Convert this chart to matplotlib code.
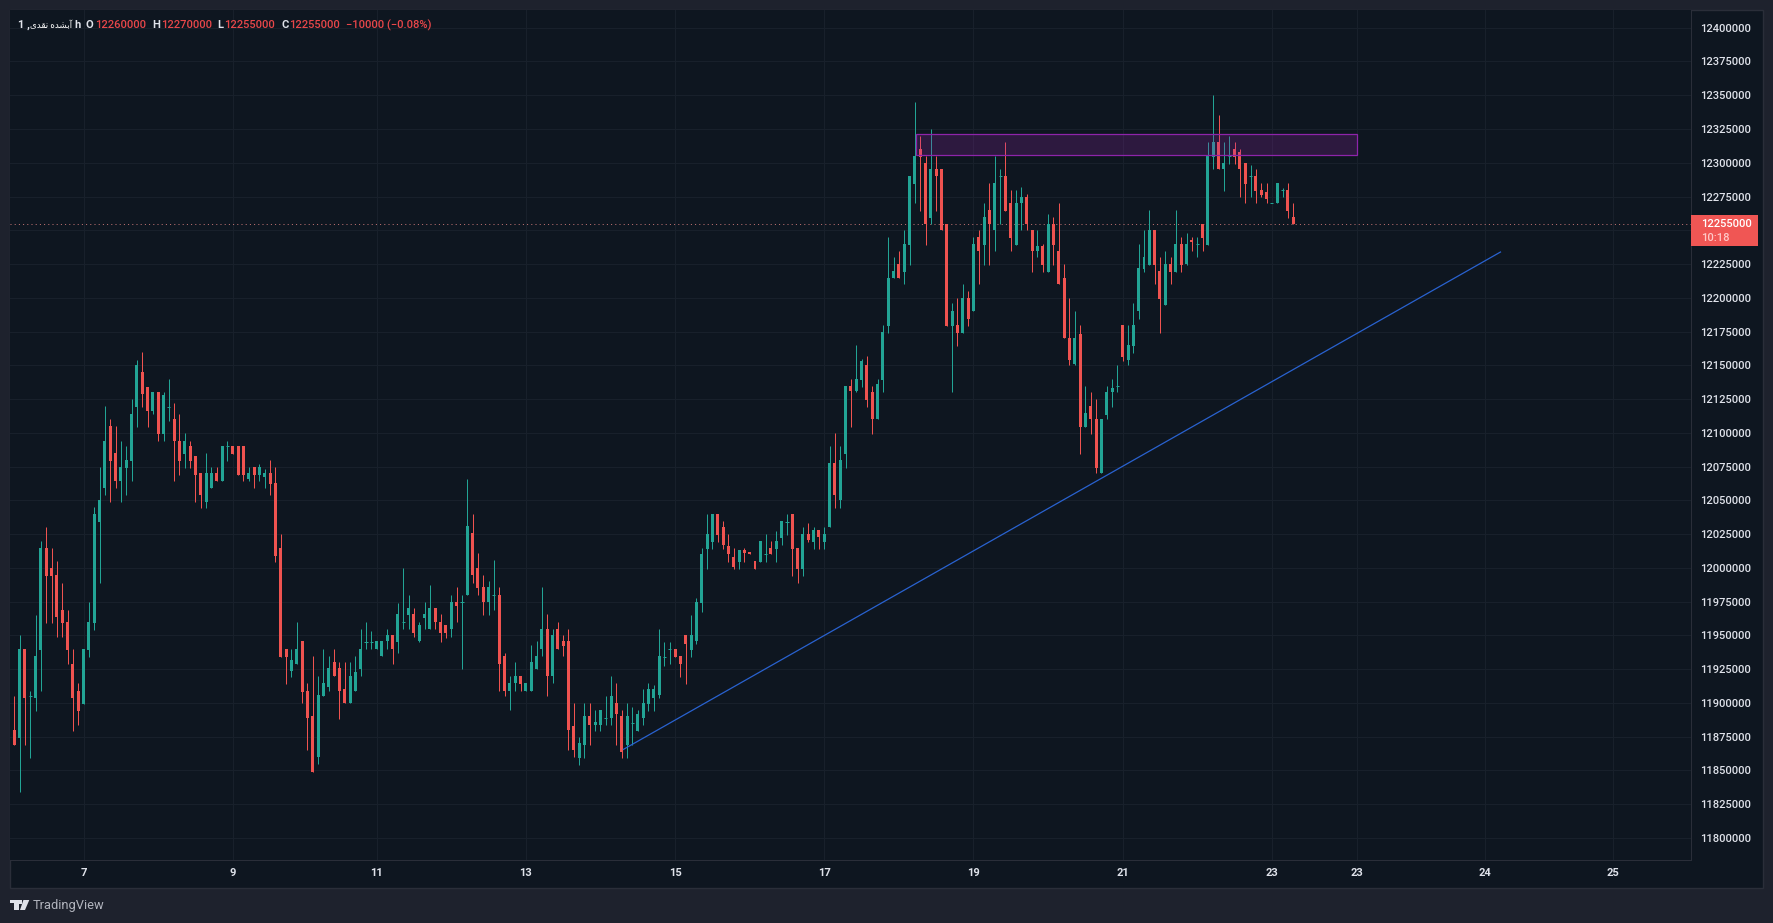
import numpy as np
import matplotlib
matplotlib.use('Agg')
import matplotlib.pyplot as pyplot
from matplotlib.patches import Rectangle, Polygon

## Constants ##
W, H = 1773, 923
BG = '#1e222d'
PANEL = '#0e1620'
FRAME = '#2a2e39'
GRID = '#18202b'
UP = '#22a495'
DOWN = '#ef5350'
TEXT = '#dfe2ea'

# hourly candles, prices in thousands, first one is cut by the left edge
opens = [
    11934,11880,11874,11940,11905,11904,11939,12015,12000,11995,
    11969,11960,11929,11909,11899,11939,11959,12034,12059,12105,
    12085,12064,12074,12079,12119,12145,12134,12116,12130,12099,
    12119,12110,12094,12084,12090,12083,12070,12049,12059,12070,
    12064,12090,12090,12090,12090,12066,12075,12069,12067,12070,
    12063,12015,11940,11924,11929,11946,11909,11890,11860,11905,
    11912,11930,11926,11910,11900,11909,11925,11945,11945,11940,
    11935,11946,11950,11945,11960,11965,11966,11946,11963,11955,
    11970,11960,11958,11955,11975,11975,11980,12026,12000,11986,
    11975,11980,11980,11935,11909,11915,11920,11909,11909,11925,
    11940,11955,11920,11955,11946,11946,11883,11859,11869,11890,
    11884,11884,11889,11889,11900,11890,11869,11885,11879,11889,
    11899,11904,11906,11934,11940,11940,11935,11950,11939,11946,
    11974,12014,12019,12040,12030,12016,12008,12004,12013,12012,
    12005,12004,12010,12015,12014,12022,12034,12040,12015,11999,
    12025,12019,12028,12019,12030,12078,12050,12084,12135,12131,
    12139,12150,12130,12110,12139,12179,12215,12225,12219,12239,
    12284,12310,12300,12259,12295,12295,12255,12179,12180,12174,
    12200,12190,12245,12239,12265,12250,12290,12290,12270,12239,
    12270,12275,12250,12235,12238,12219,12255,12235,12215,12170,
    12151,12173,12104,12120,12110,12070,12113,12130,12135,12180,
    12154,12164,12190,12221,12224,12250,12220,12195,12225,12219,
    12240,12225,12243,12240,12255,12239,12304,12315,12295,12305,
    12310,12308,12300,12290,12290,12280,12278,12270,12270,12280,
    12280,12260]
highs = [
    11950,11905,11950,11940,11909,11965,12020,12030,12015,12005,
    11989,11969,11940,11915,11940,11975,12045,12075,12120,12110,
    12105,12094,12090,12125,12154,12160,12134,12130,12130,12130,
    12140,12122,12114,12100,12094,12083,12070,12085,12075,12075,
    12090,12094,12090,12090,12090,12075,12075,12077,12073,12080,
    12075,12025,11940,11940,11960,11946,11915,11935,11920,11940,
    11935,11940,11930,11930,11930,11935,11955,11960,11953,11946,
    11946,11955,11950,11974,12000,11980,11970,11960,11975,11987,
    11970,11966,11958,11980,11986,11980,12066,12040,12011,11995,
    11990,12006,11986,11937,11920,11930,11920,11915,11943,11946,
    11986,11966,11955,11960,11950,11955,11900,11875,11900,11900,
    11895,11895,11905,11920,11915,11895,11900,11897,11895,11910,
    11915,11913,11955,11945,11945,11940,11935,11950,11965,11978,
    12015,12040,12040,12040,12035,12025,12015,12013,12015,12012,
    12005,12020,12025,12020,12027,12035,12040,12040,12015,12030,
    12033,12030,12028,12030,12090,12100,12090,12135,12140,12165,
    12155,12157,12135,12140,12180,12245,12230,12235,12250,12290,
    12345,12320,12305,12325,12305,12295,12255,12196,12200,12210,
    12205,12245,12250,12270,12285,12305,12295,12315,12280,12280,
    12282,12277,12250,12250,12240,12262,12260,12270,12225,12200,
    12190,12180,12135,12130,12125,12110,12135,12140,12150,12180,
    12180,12196,12240,12250,12265,12250,12230,12235,12230,12265,
    12245,12248,12245,12245,12255,12315,12350,12335,12315,12320,
    12315,12310,12300,12298,12295,12285,12285,12270,12285,12281,
    12285,12270]
lows = [
    11934,11869,11834,11869,11859,11894,11909,11959,11959,11949,
    11949,11929,11879,11884,11899,11934,11954,11989,12054,12049,
    12059,12049,12054,12064,12104,12119,12104,12114,12094,12094,
    12109,12064,12069,12074,12074,12049,12044,12044,12059,12064,
    12064,12079,12084,12069,12064,12064,12059,12064,12059,12054,
    12004,11934,11914,11919,11929,11900,11865,11849,11855,11905,
    11909,11920,11888,11900,11900,11909,11920,11940,11940,11940,
    11935,11940,11929,11937,11955,11955,11949,11945,11955,11955,
    11955,11945,11948,11949,11960,11925,11980,11989,11980,11965,
    11965,11969,11909,11905,11895,11909,11909,11909,11909,11925,
    11935,11905,11915,11940,11935,11865,11860,11854,11859,11869,
    11879,11879,11884,11884,11869,11859,11859,11869,11879,11884,
    11894,11894,11904,11927,11929,11934,11919,11914,11934,11944,
    11967,11999,12014,12019,12014,12004,11999,11999,12004,12010,
    11999,12004,12004,12010,12004,12017,12024,11994,11989,11994,
    12019,12014,12014,12014,12030,12044,12044,12074,12104,12130,
    12134,12119,12099,12110,12130,12174,12215,12215,12210,12224,
    12270,12264,12239,12255,12264,12250,12179,12130,12164,12174,
    12179,12190,12210,12224,12224,12235,12255,12264,12235,12239,
    12250,12250,12219,12230,12219,12219,12224,12210,12170,12150,
    12150,12084,12104,12099,12070,12070,12110,12119,12130,12153,
    12150,12159,12184,12219,12224,12210,12174,12195,12210,12219,
    12219,12224,12235,12230,12235,12239,12295,12295,12279,12299,
    12299,12275,12270,12275,12270,12275,12270,12270,12270,12275,
    12259,12255]
closes = [
    11950,11869,11940,11904,11905,11935,12015,11994,11994,11964,
    11959,11939,11904,11894,11940,11960,12040,12050,12094,12079,
    12064,12075,12080,12114,12150,12129,12116,12130,12099,12128,
    12119,12094,12079,12094,12079,12069,12054,12070,12070,12064,
    12090,12090,12084,12069,12069,12070,12069,12075,12070,12062,
    12009,11934,11934,11932,11940,11908,11889,11849,11906,11915,
    11926,11920,11909,11900,11920,11923,11940,11945,11945,11946,
    11946,11950,11940,11966,11960,11970,11952,11958,11966,11970,
    11960,11952,11952,11975,11972,11975,12031,11995,11985,11975,
    11986,11980,11929,11909,11915,11920,11914,11915,11930,11935,
    11955,11920,11950,11940,11942,11880,11865,11870,11890,11884,
    11886,11895,11889,11905,11892,11864,11890,11885,11892,11900,
    11910,11910,11935,11934,11940,11934,11929,11944,11950,11975,
    12010,12025,12040,12024,12017,12010,12001,12013,12011,12010,
    11999,12020,12010,12010,12020,12035,12034,12014,11999,12025,
    12021,12028,12023,12025,12078,12054,12080,12135,12131,12140,
    12153,12124,12110,12136,12175,12215,12220,12215,12240,12290,
    12305,12304,12255,12295,12290,12250,12179,12190,12174,12200,
    12184,12240,12235,12260,12255,12285,12290,12264,12244,12270,
    12275,12255,12235,12238,12224,12255,12239,12210,12170,12154,
    12170,12104,12115,12110,12074,12110,12130,12133,12135,12156,
    12165,12180,12222,12230,12250,12224,12199,12225,12219,12240,
    12224,12240,12241,12240,12244,12305,12315,12295,12300,12305,
    12304,12295,12284,12290,12279,12276,12273,12270,12285,12280,
    12264,12255]

price_ticks = [11800 + 25 * i for i in range(25)]
date_ticks = [13, 41, 68, 96, 124, 152, 180, 208, 236, 252, 276, 300]
date_labels = ['7', '9', '11', '13', '15', '17', '19', '21', '23', '23', '24', '25']

# drawings on the chart
last_price = 12255
zone_x = [169.2, 252]
zone_y = [12305.6, 12321]
trend_x = [114.3, 278.9]
trend_y = [11865.6, 12233.9]

# Arabic letters in presentation forms and visual order, matplotlib has no shaping
SYMBOL_NAME = '\uFBFC\uFEAA\uFED8\uFEE7 \uFEE9\uFEAA\uFEB8\uFE91\uFE81'


def px(x, y):
    return x / W, 1 - y / H


def fig_rect(fig, x0, y0, x1, y1, **kw):
    r = Rectangle(px(x0, y1), (x1 - x0) / W, (y1 - y0) / H, transform=fig.transFigure, **kw)
    fig.add_artist(r)
    return r


def fig_text(fig, x, y, s, color=TEXT, size=8, **kw):
    kw.setdefault('family', ['Roboto', 'DejaVu Sans'])
    kw.setdefault('va', 'center')
    kw.setdefault('fontweight', 'medium')
    fig.text(*px(x, y), s, color=color, fontsize=size, **kw)


def draw_candles(ax):
    xs = np.arange(len(closes)) - 1
    o = np.array(opens, dtype=float)
    h = np.array(highs, dtype=float)
    l = np.array(lows, dtype=float)
    c = np.array(closes, dtype=float)
    colors = [UP if cl >= op else DOWN for op, cl in zip(o, c)]
    ax.vlines(xs, l, h, colors=colors, linewidth=0.72, zorder=3)
    ax.bar(xs, np.abs(c - o), bottom=np.minimum(o, c), width=0.56, color=colors,
           linewidth=0, antialiased=False, zorder=4)
    flat = o == c
    ax.hlines(c[flat], xs[flat] - 0.3, xs[flat] + 0.3, colors=UP, linewidth=0.72, zorder=4)


def draw_logo(fig):
    t = fig.transFigure
    for pts in ([(10, 900), (18.5, 900), (18.5, 910), (14, 910), (14, 903.4), (10, 903.4)],
                [(23.4, 900), (29.3, 900), (25, 910), (20, 910)]):
        fig.add_artist(Polygon([px(*p) for p in pts], closed=True, color=TEXT, lw=0, transform=t))
    cx, cy = px(20.6, 901.8)
    fig.add_artist(Rectangle((cx - 1.7 / W, cy - 1.7 / H), 3.4 / W, 3.4 / H, color=TEXT, lw=0, transform=t))


def main():
    pyplot.rcParams['font.family'] = ['Roboto', 'DejaVu Sans']
    fig = pyplot.figure(figsize=(W / 100, H / 100), dpi=100, facecolor=BG)

    # panel and frame
    fig_rect(fig, 9.5, 9.5, 1762.5, 887.5, facecolor=PANEL, edgecolor=FRAME, linewidth=1, zorder=-2)

    ax = fig.add_axes([10 / W, (H - 860) / H, 1681 / W, 850 / H], facecolor=PANEL)
    ax.set_xlim(-0.807, 314.65)
    ax.set_ylim(11783.7, 12413.1)

    ax.set_yticks(price_ticks)
    ax.set_yticklabels(['' if t == 12250 else str(t * 1000) for t in price_ticks], fontweight='medium')
    ax.yaxis.tick_right()
    ax.set_xticks(date_ticks)
    ax.set_xticklabels(date_labels, fontweight='bold')
    ax.tick_params(axis='y', length=0, pad=6.8, labelsize=8, labelcolor=TEXT)
    ax.tick_params(axis='x', length=0, pad=6, labelsize=8, labelcolor=TEXT)
    ax.grid(color=GRID, linewidth=0.72, zorder=0)
    ax.set_axisbelow(True)
    for side in ('top', 'left'):
        ax.spines[side].set_visible(False)
    for side in ('right', 'bottom'):
        ax.spines[side].set_color(FRAME)
        ax.spines[side].set_linewidth(0.72)

    draw_candles(ax)

    ax.axhline(last_price, color='#f08a88', linewidth=0.72, linestyle=(0, (1, 3.2)), alpha=0.8, zorder=2)
    ax.add_patch(Rectangle((zone_x[0], zone_y[0]), zone_x[1] - zone_x[0], zone_y[1] - zone_y[0],
                           facecolor='#9c27b0', alpha=0.22, linewidth=0, zorder=5))
    ax.add_patch(Rectangle((zone_x[0], zone_y[0]), zone_x[1] - zone_x[0], zone_y[1] - zone_y[0],
                           fill=False, edgecolor='#8e24aa', linewidth=0.9, zorder=5))
    ax.plot(trend_x, trend_y, color='#2962d0', linewidth=0.9, zorder=5)

    # last price label
    fig_rect(fig, 1691, 215, 1757.7, 245.7, facecolor='#f05654', linewidth=0, zorder=5)
    fig_text(fig, 1701, 223.7, '12255000', color='#ffffff', zorder=6)
    fig_text(fig, 1701, 237.8, '10:18', color='#ffc9c8', zorder=6)

    # legend line
    red = '#e8474a'
    fig_text(fig, 18, 25, '1 ,', fontweight='bold')
    fig_text(fig, 30.5, 25, SYMBOL_NAME, size=6.3, fontweight='normal', color='#ffffff')
    fig_text(fig, 74, 25, 'h', fontweight='bold')
    for x, s in [(86, 'O'), (152.5, 'H'), (217.5, 'L'), (281.5, 'C')]:
        fig_text(fig, x, 25, s, fontweight='bold')
    for x, s in [(95.5, '12260000'), (161, '12270000'), (224.5, '12255000'), (289.5, '12255000'),
                 (346.5, '\u221210000 (\u22120.08%)')]:
        fig_text(fig, x, 25, s, color=red)

    # watermark
    draw_logo(fig)
    fig_text(fig, 33, 905.5, 'TradingView', color='#b2b5be', size=9.3, fontweight='normal')

    fig.savefig('out.png', dpi=100, facecolor=BG)


if __name__ == '__main__':
    main()
